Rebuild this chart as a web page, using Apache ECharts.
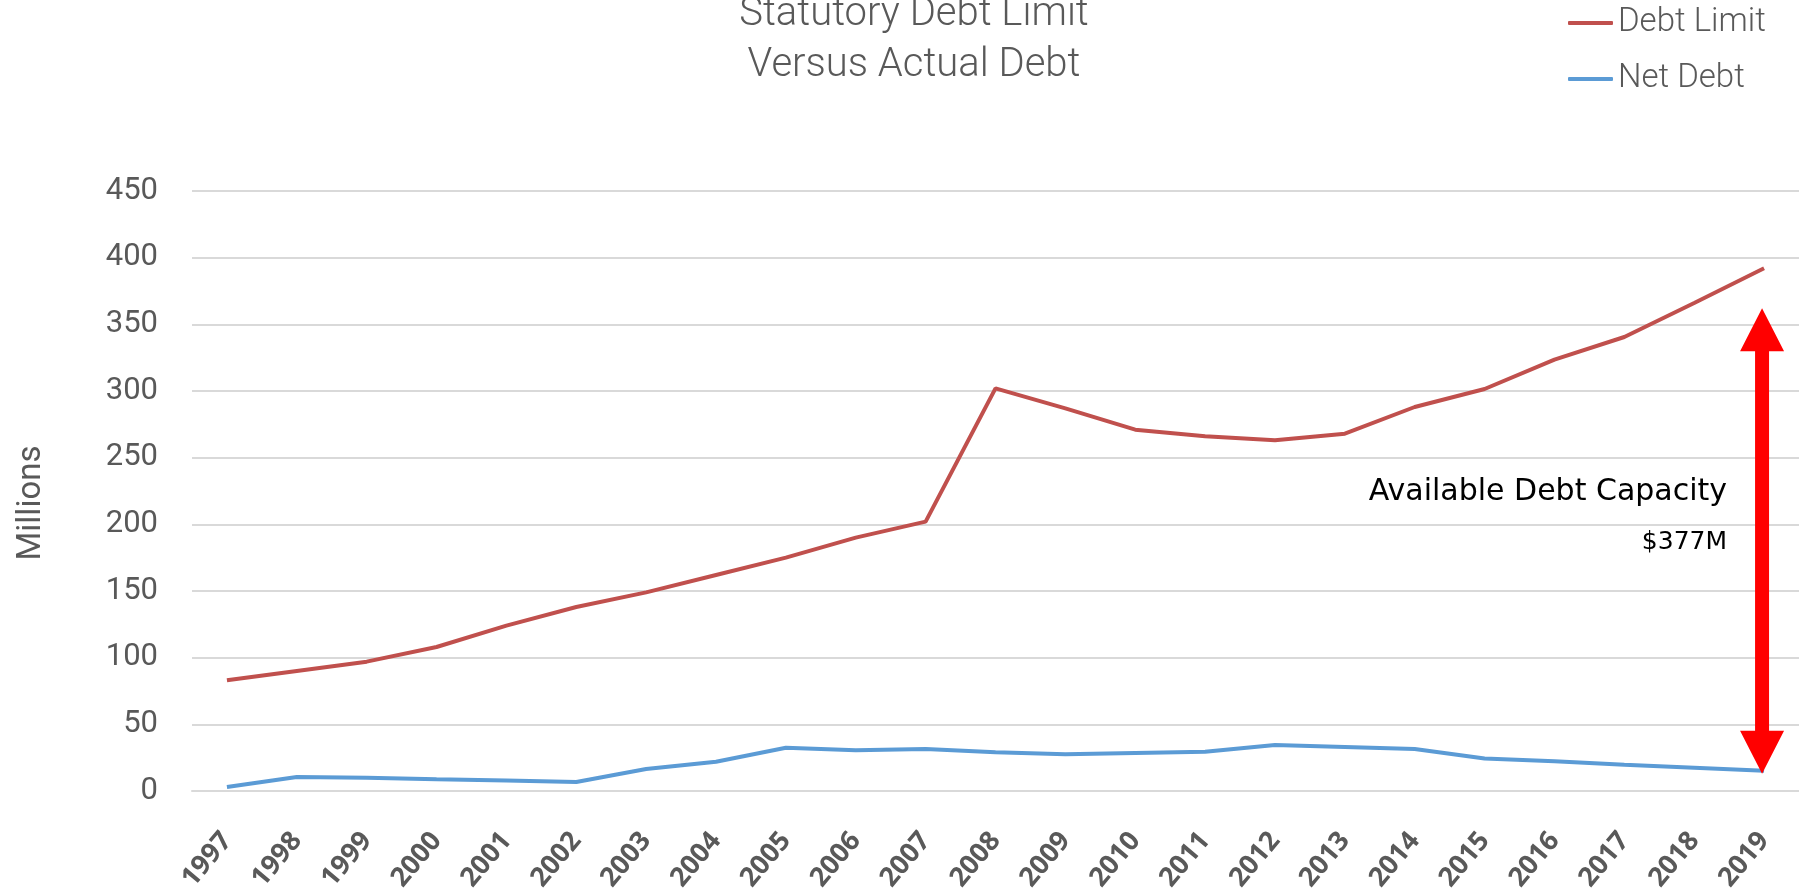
<!DOCTYPE html>
<html>
<head>
<meta charset="utf-8">
<title>Statutory Debt Limit Versus Actual Debt</title>
<script src="https://cdn.jsdelivr.net/npm/echarts@6/dist/echarts.min.js"></script>
<style>
  html, body { margin: 0; padding: 0; background: #fff; }
  #chart { width: 1799px; height: 892px; }
</style>
</head>
<body>
<div id="chart"></div>
<script>
// data (millions)
const years = ['1997', '1998', '1999', '2000', '2001', '2002', '2003', '2004', '2005', '2006', '2007', '2008',
  '2009', '2010', '2011', '2012', '2013', '2014', '2015', '2016', '2017', '2018', '2019'];
const debtLimit = [83, 90, 97, 108, 124, 138, 149, 162, 175, 190, 202, 302,
  287, 271, 266, 263, 268, 288, 301.5, 323.5, 340.5, 366, 392];
const netDebt = [3, 10.5, 10, 8.8, 7.8, 6.8, 16.5, 22, 32.5, 30.5, 31.5, 29,
  27.5, 28.5, 29.5, 34.5, 33, 31.5, 24.3, 22.4, 19.7, 17.5, 15.2];
const yMin = 0;
const yMax = 450;
const yStep = 50;
// double arrow spans from net debt up to this value at the last year
const arrowTop = 362;
const arrowBottom = 13;
const capacityText = 'Available Debt Capacity';
const capacityValue = '$377M';

const grey = '#595959';
const baseFont = 'Roboto';

let chartDom = document.getElementById('chart');
let myChart = echarts.init(chartDom);

myChart.setOption({
  animation: false,
  title: {
    text: 'Statutory Debt Limit\nVersus Actual Debt',
    left: 914,
    top: -11,
    padding: 0,
    textAlign: 'center',
    textStyle: {
      fontFamily: baseFont,
      fontWeight: 300,
      fontSize: 40,
      lineHeight: 51,
      color: grey
    }
  },
  legend: {
    orient: 'vertical',
    left: 1568,
    top: 3,
    padding: 0,
    icon: 'roundRect',
    itemWidth: 45,
    itemHeight: 4,
    itemGap: 16,
    textStyle: {
      fontFamily: baseFont,
      fontWeight: 300,
      fontSize: 33,
      lineHeight: 40,
      color: grey
    },
    data: ['Debt Limit', 'Net Debt']
  },
  grid: {
    left: 192,
    right: 0,
    top: 191,
    bottom: 101,
    containLabel: false,
    outerBoundsMode: 'none'
  },
  xAxis: {
    type: 'category',
    boundaryGap: true,
    data: years,
    axisTick: { show: false },
    axisLine: {
      lineStyle: { color: '#d9d9d9', width: 2 }
    },
    axisLabel: {
      interval: 0,
      rotate: 50,
      margin: 45,
      fontFamily: 'Open Sans',
      fontWeight: 'bold',
      fontSize: 27,
      color: grey
    }
  },
  yAxis: {
    type: 'value',
    min: yMin,
    max: yMax,
    interval: yStep,
    name: 'Millions',
    nameLocation: 'middle',
    nameRotate: 90,
    nameGap: 144,
    nameTextStyle: {
      fontFamily: baseFont,
      fontSize: 33,
      color: grey,
      padding: [0, 24, 0, 0]
    },
    axisLine: { show: false },
    axisTick: { show: false },
    splitLine: {
      lineStyle: { color: '#d9d9d9', width: 2 }
    },
    axisLabel: {
      margin: 34,
      fontFamily: baseFont,
      fontSize: 31,
      color: grey
    }
  },
  series: [
    {
      name: 'Debt Limit',
      type: 'line',
      data: debtLimit,
      symbol: 'none',
      color: '#c0504d',
      lineStyle: { width: 4, color: '#c0504d' }
    },
    {
      name: 'Net Debt',
      type: 'line',
      data: netDebt,
      symbol: 'none',
      color: '#5b9bd5',
      lineStyle: { width: 4, color: '#5b9bd5' }
    }
  ]
});

// red double arrow + label, placed through the chart's own scales
const lastYear = years[years.length - 1];
const pTop = myChart.convertToPixel({ gridIndex: 0 }, [lastYear, arrowTop]);
const pBot = myChart.convertToPixel({ gridIndex: 0 }, [lastYear, arrowBottom]);
const ax = pTop[0] - 2;
const headLen = 43, headHalf = 22, shaftHalf = 7;
const arrowPoints = [
  [ax, pTop[1]],
  [ax + headHalf, pTop[1] + headLen],
  [ax + shaftHalf, pTop[1] + headLen],
  [ax + shaftHalf, pBot[1] - headLen],
  [ax + headHalf, pBot[1] - headLen],
  [ax, pBot[1]],
  [ax - headHalf, pBot[1] - headLen],
  [ax - shaftHalf, pBot[1] - headLen],
  [ax - shaftHalf, pTop[1] + headLen],
  [ax - headHalf, pTop[1] + headLen]
];
const textRight = ax - 35;

myChart.setOption({
  graphic: [
    {
      type: 'polygon',
      z: 100,
      shape: { points: arrowPoints },
      style: { fill: '#ff0000' }
    },
    {
      type: 'text',
      z: 100,
      x: textRight,
      y: 492,
      style: {
        text: capacityText,
        align: 'right',
        verticalAlign: 'middle',
        fontFamily: 'DejaVu Sans',
        fontSize: 30,
        fill: '#000'
      }
    },
    {
      type: 'text',
      z: 100,
      x: textRight,
      y: 542,
      style: {
        text: capacityValue,
        align: 'right',
        verticalAlign: 'middle',
        fontFamily: 'DejaVu Sans',
        fontSize: 25,
        fill: '#000'
      }
    }
  ]
});
</script>
</body>
</html>
